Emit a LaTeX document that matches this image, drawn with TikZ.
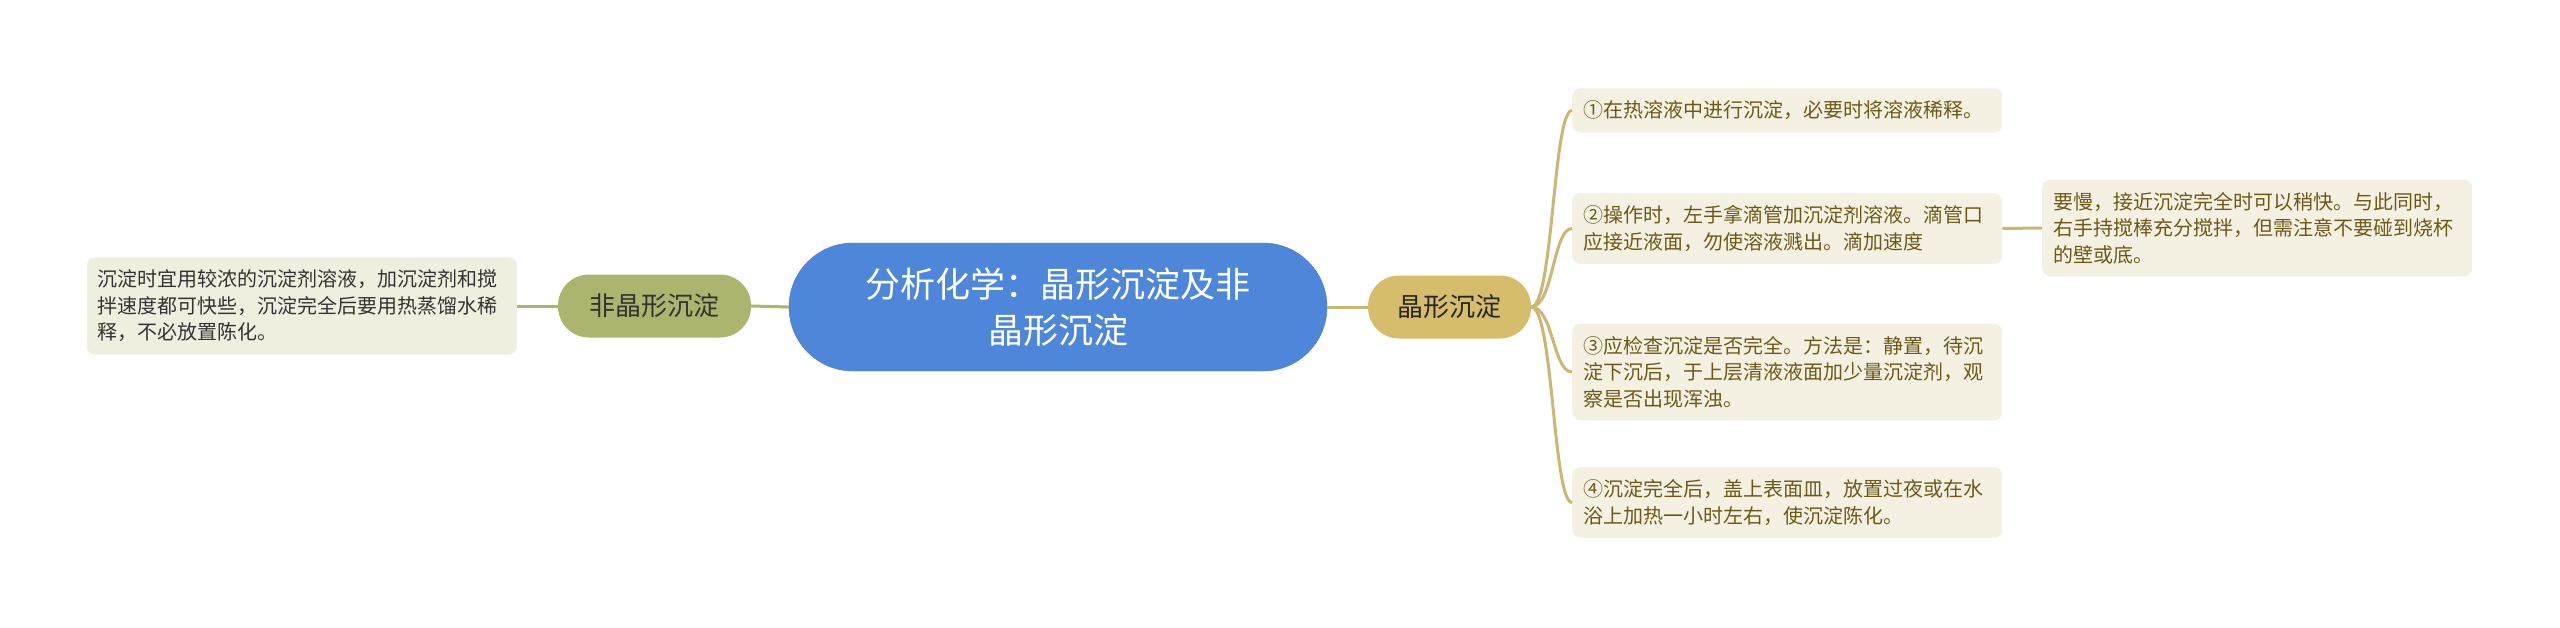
\documentclass[tikz,border=0pt]{standalone}
\usepackage{fontspec}
\setmainfont{Noto Sans CJK SC}
\usepackage{tikz}
\usetikzlibrary{positioning}
\definecolor{rootblue}{HTML}{4E86DA}
\definecolor{olivenode}{HTML}{ADB46E}
\definecolor{olivebox}{HTML}{EFEFDF}
\definecolor{goldnode}{HTML}{D5BD6C}
\definecolor{goldbox}{HTML}{F5F1E2}
\definecolor{goldline}{HTML}{CDB673}
\definecolor{browntext}{HTML}{6B5A17}
\tikzset{
  mapnode/.style = {align=center, inner sep=0pt, text centered},
  rt/.style = {mapnode, rounded corners=64pt, fill=rootblue, draw=rootblue!90!black,
    text=white, minimum width=538pt, minimum height=128pt,
    font=\fontsize{35}{46}\selectfont},% central pill
  br/.style = {mapnode, rounded corners=31pt, minimum height=63pt,
    font=\fontsize{26}{30}\selectfont},% branch pill
  lf/.style = {align=left, rounded corners=8pt, inner xsep=11pt, inner ysep=12.5pt,
    text width=408pt, font=\fontsize{20}{26.5}\selectfont},% leaf box
  ln/.style = {line width=3pt}
}
\begin{document}
\begin{tikzpicture}[x=1pt,y=-1pt]
\useasboundingbox (0,0) rectangle (2560,627);
\node [rt] (root) at (1058,307) {分析化学：晶形沉淀及非\\晶形沉淀};
% left side
\node [br, fill=olivenode, text=black!80, minimum width=193pt] (amor) at (654.5,306) {非晶形沉淀};
\node [lf, fill=olivebox, text=black!80, anchor=east] (amortxt) at (517,306)
  {沉淀时宜用较浓的沉淀剂溶液，加沉淀剂和搅\\拌速度都可快些，沉淀完全后要用热蒸馏水稀\\释，不必放置陈化。};
\draw [ln, olivenode] (amortxt.east) -- (amor.west);
\draw [ln, olivenode] (amor.east) -- (root.west);
% right side
\node [br, fill=goldnode, text=black!85, minimum width=163pt] (cryst) at (1449.5,307) {晶形沉淀};
\node [lf, fill=goldbox, text=browntext, anchor=west] (c1) at (1572,110.5)
  {①在热溶液中进行沉淀，必要时将溶液稀释。};
\node [lf, fill=goldbox, text=browntext, anchor=west] (c2) at (1572,228.5)
  {②操作时，左手拿滴管加沉淀剂溶液。滴管口\\应接近液面，勿使溶液溅出。滴加速度};
\node [lf, fill=goldbox, text=browntext, anchor=west] (c3) at (1572,372)
  {③应检查沉淀是否完全。方法是：静置，待沉\\淀下沉后，于上层清液液面加少量沉淀剂，观\\察是否出现浑浊。};
\node [lf, fill=goldbox, text=browntext, anchor=west] (c4) at (1572,502.5)
  {④沉淀完全后，盖上表面皿，放置过夜或在水\\浴上加热一小时左右，使沉淀陈化。};
\node [lf, fill=goldbox, text=browntext, anchor=west] (c2a) at (2042,228)
  {要慢，接近沉淀完全时可以稍快。与此同时，\\右手持搅棒充分搅拌，但需注意不要碰到烧杯\\的壁或底。};
\draw [ln, goldline] (root.east) -- (cryst.west);
\foreach \c in {c1,c2,c3,c4}
  \draw [ln, goldline] (cryst.east) .. controls +(22,0) and +(-19,0) .. (\c.west);
\draw [ln, goldline] (c2.east) -- (c2a.west);
\end{tikzpicture}
\end{document}
